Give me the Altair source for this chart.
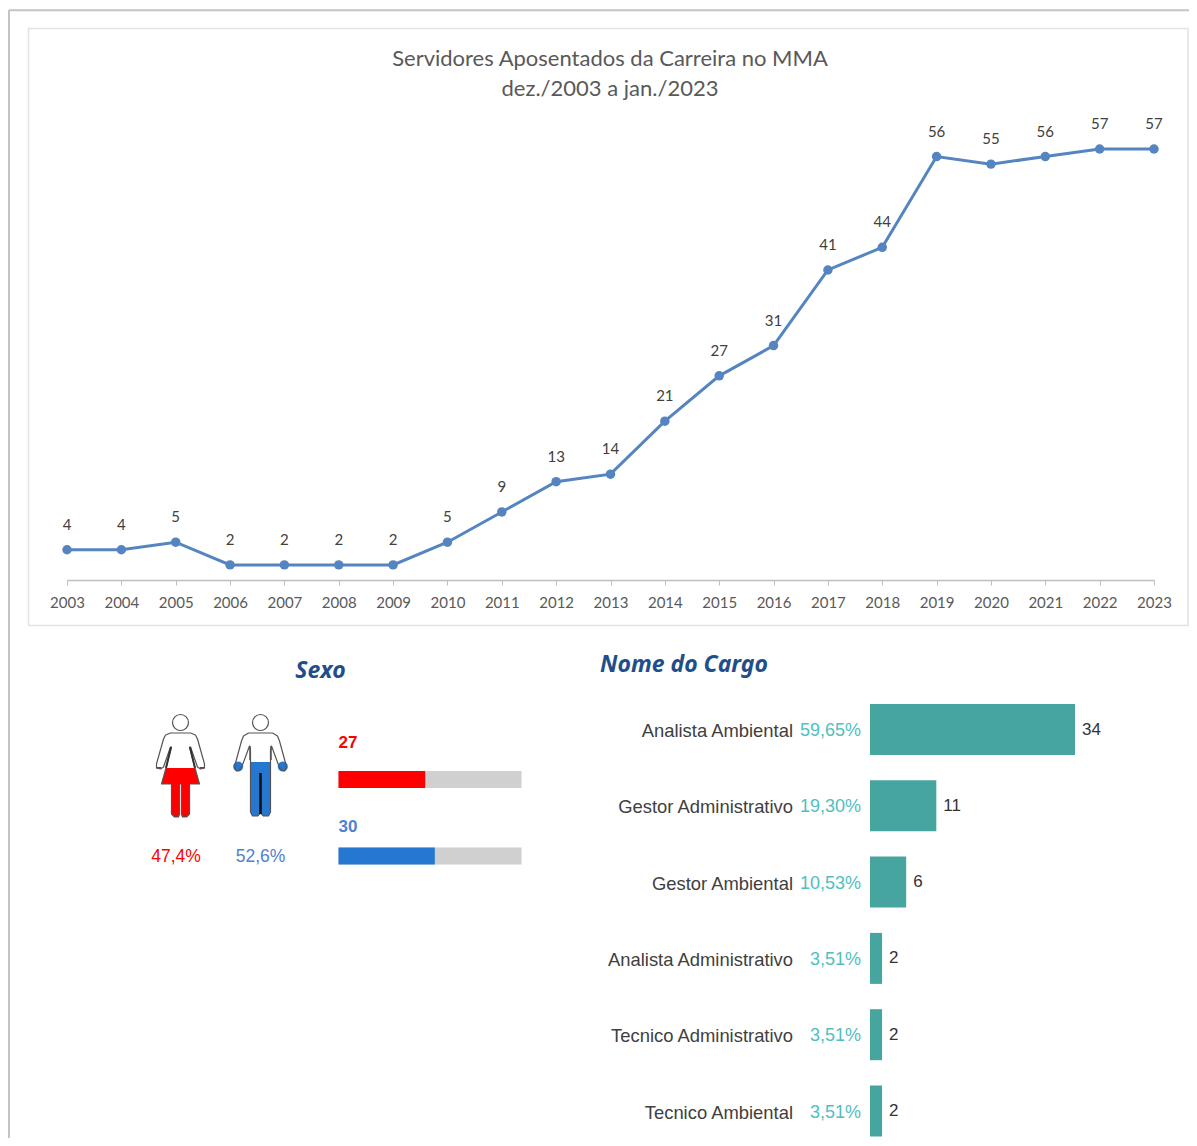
import altair as alt
import pandas as pd

anos = list(range(2003, 2024))
aposentados = [4, 4, 5, 2, 2, 2, 2, 5, 9, 13, 14, 21, 27, 31, 41, 44, 56, 55, 56, 57, 57]
sexos = ["Feminino", "Masculino"]
sexo_qtd = [27, 30]
sexo_pct = ["47,4%", "52,6%"]
sexo_total = [57, 57]
sexo_cor = ["#ff0000", "#2577d0"]
sexo_cor_txt = ["#ff0000", "#4f81d0"]
cargos = ["Analista Ambiental", "Gestor Administrativo", "Gestor Ambiental",
          "Analista Administrativo", "Tecnico Administrativo", "Tecnico Ambiental"]
cargo_pct = ["59,65%", "19,30%", "10,53%", "3,51%", "3,51%", "3,51%"]
cargo_qtd = [34, 11, 6, 2, 2, 2]
titulo = ["Servidores Aposentados da Carreira no MMA", "dez./2003 a jan./2023"]

W, H = 1181, 1130
def PX(v): return v - 8
def PY(v): return v - 8

serie = pd.DataFrame({"ano": [str(a) for a in anos], "n": aposentados})
sexo = pd.DataFrame({"sexo": sexos, "qtd": sexo_qtd, "pct": sexo_pct, "total": sexo_total})
cargo = pd.DataFrame({"cargo": cargos, "pct": cargo_pct, "qtd": cargo_qtd})
um = pd.DataFrame({"k": [1]})

# ---- pictogram shapes (icon-local units, scaled by the symbol size) ----
BOX = 110.0
def pt(dx, y): return f"{dx / (BOX / 2):.4f} {(y - 766) / (BOX / 2):.4f}"
def poly(points):
    return "M" + " L".join(pt(a, b) for a, b in points) + " Z"
def mirror(right):
    return right + [(-a, b) for a, b in reversed(right)]
def circle(cx, cy, r):
    a, b = pt(cx - r, cy), pt(cx + r, cy)
    rr = r / (BOX / 2)
    return f"M{a} A{rr:.4f} {rr:.4f} 0 1 0 {b} A{rr:.4f} {rr:.4f} 0 1 0 {a} Z"
def seg(a, b):
    return "M" + pt(*a) + " L" + pt(*b)

w_low = [(14.5, 768), (19, 784), (9, 784), (9, 814), (6, 817), (2, 817), (1, 814), (1, 784), (0, 784)]
w_right = [(0, 733), (10, 733), (15, 735), (17, 739), (24, 764), (24, 768), (20, 769), (17, 767),
           (10, 747), (9, 747)] + w_low
w_out = poly(mirror(w_right)) + " " + circle(0, 722.5, 8)
w_fill = poly(mirror(w_low)) + " " + poly([(19, 767), (24, 767), (24, 768.5), (20, 769)]) + " " + \
    poly([(-19, 767), (-24, 767), (-24, 768.5), (-20, 769)])
w_slit = seg((9.5, 747), (14.5, 768)) + " " + seg((-9.5, 747), (-14.5, 768))

m_low = [(10, 762), (10, 812), (8, 816), (3, 816), (0, 813)]
m_right = [(0, 733), (12, 733), (17, 736), (19, 741), (25, 763), (26, 768), (24, 771), (21, 770),
           (18, 765), (11, 746), (10, 750)] + m_low[1:]
m_out = poly(mirror(m_right)) + " " + circle(0, 722.5, 8)
m_fill = poly(mirror(m_low)) + " " + circle(22.3, 766.5, 5) + " " + circle(-22.3, 766.5, 5)
m_slit = seg((0, 773), (0, 814))
m_slit2 = seg((10.5, 746), (10.5, 760)) + " " + seg((-10.5, 746), (-10.5, 760))

icone_x = alt.X("sexo:N", axis=None, scale=alt.Scale(type="point", padding=0, domain=sexos, range=[PX(180.5), PX(260.5)]))
def icone(nome, path, fill=None, stroke=None, sw=1.2):
    d = sexo[sexo.sexo == nome]
    if fill:
        m = alt.Chart(d).mark_point(shape=path, size=BOX ** 2, filled=True, fill=fill, opacity=1, strokeWidth=0)
    else:
        m = alt.Chart(d).mark_point(shape=path, size=BOX ** 2, filled=False, stroke=stroke, opacity=1,
                                    strokeWidth=sw, strokeJoin="round")
    return m.encode(x=icone_x, y=alt.value(PY(766)))

# ---- layers ----
layers = []
layers.append(alt.Chart(um).mark_rule(color="#c4c4c4", strokeWidth=2).encode(
    x=alt.value(1), x2=alt.value(W), y=alt.value(PY(10.3))))
layers.append(alt.Chart(um).mark_rule(color="#c4c4c4", strokeWidth=2).encode(
    x=alt.value(1), y=alt.value(PY(10)), y2=alt.value(H)))
layers.append(alt.Chart(um).mark_rect(fill="white", stroke="#e2e2e2", strokeWidth=1.5).encode(
    x=alt.value(PX(28.5)), x2=alt.value(PX(1188)), y=alt.value(PY(28.5)), y2=alt.value(PY(625.5))))

x_anos = dict(type="point", padding=0, domain=[str(a) for a in anos], range=[PX(67), PX(1154)])
y_n = alt.Y("n:Q", axis=None, scale=alt.Scale(domain=[0, 57], range=[PY(580), PY(149)]))
eixo = alt.Axis(title=None, labelFont="Lato", labelFontSize=15, labelColor="#595959", labelAngle=0,
                domainColor="#bfbfbf", domainWidth=1.5, tickColor="#bfbfbf", tickSize=5, labelPadding=10,
                grid=False, offset=PY(580) - H, zindex=1)
layers.append(alt.Chart(serie).mark_line(color="#5585c0", strokeWidth=3).encode(
    x=alt.X("ano:O", scale=alt.Scale(**x_anos), axis=eixo), y=y_n))
layers.append(alt.Chart(serie).mark_point(filled=True, color="#5585c0", size=90, opacity=1).encode(
    x=alt.X("ano:O", scale=alt.Scale(**x_anos), axis=None), y=y_n))
layers.append(alt.Chart(serie).mark_text(font="Lato", fontSize=15, color="#404040", dy=-25).encode(
    x=alt.X("ano:O", scale=alt.Scale(**x_anos), axis=None), y=y_n, text="n:Q"))

for txt, yy in zip(titulo, [59, 89]):
    layers.append(alt.Chart(um).mark_text(text=txt, font="Lato", fontSize=22, color="#595959", align="center").encode(
        x=alt.value(PX(610)), y=alt.value(PY(yy))))

layers.append(alt.Chart(um).mark_text(text="Sexo", font="Noto Sans", fontSize=23, fontWeight="bold", fontStyle="italic",
                                      color="#1f4e8c", align="center").encode(
    x=alt.value(PX(320.5)), y=alt.value(PY(671))))
layers.append(alt.Chart(um).mark_text(text="Nome do Cargo", font="Noto Sans", fontSize=23, fontWeight="bold", fontStyle="italic",
                                      color="#1f4e8c", align="left").encode(
    x=alt.value(PX(600)), y=alt.value(PY(665))))

# pictograms
layers += [
    icone("Feminino", w_out, fill="white"), icone("Feminino", w_fill, fill=sexo_cor[0]),
    icone("Feminino", w_out, stroke="#555555"), icone("Feminino", w_slit, stroke="#333333", sw=2),
    icone("Masculino", m_out, fill="white"), icone("Masculino", m_fill, fill=sexo_cor[1]),
    icone("Masculino", m_out, stroke="#555555"), icone("Masculino", m_slit, stroke="#111111", sw=2.6),
    icone("Masculino", m_slit2, stroke="#555555", sw=1.5),
]
cor_txt = alt.Color("sexo:N", legend=None, scale=alt.Scale(domain=sexos, range=sexo_cor_txt))
cor_bar = alt.Color("sexo:N", legend=None, scale=alt.Scale(domain=sexos, range=sexo_cor))
layers.append(alt.Chart(sexo).mark_text(font="Liberation Sans", fontSize=17.5).encode(
    x=alt.X("sexo:N", axis=None, scale=alt.Scale(type="point", padding=0, domain=sexos, range=[PX(176), PX(260.5)])),
    y=alt.value(PY(857)), text="pct:N", color=cor_txt))

y_sexo = alt.Y("sexo:N", axis=None, scale=alt.Scale(type="point", padding=0, domain=sexos, range=[PY(779.5), PY(856)]))
x_sexo = alt.Scale(domain=[0, 57], range=[PX(338.5), PX(521.5)])
layers.append(alt.Chart(sexo).mark_bar(size=17, color="#d0d0d0").encode(
    x=alt.X("total:Q", axis=None, stack=None, scale=x_sexo), y=y_sexo))
layers.append(alt.Chart(sexo).mark_bar(size=17).encode(
    x=alt.X("qtd:Q", axis=None, stack=None, scale=x_sexo), y=y_sexo, color=cor_bar))
layers.append(alt.Chart(sexo).mark_text(font="Liberation Sans", fontSize=17, fontWeight="bold", align="left").encode(
    x=alt.value(PX(338.5)),
    y=alt.Y("sexo:N", axis=None, scale=alt.Scale(type="point", padding=0, domain=sexos, range=[PY(743), PY(826.5)])),
    text="qtd:Q", color=cor_txt))

y_cargo = alt.Y("cargo:N", axis=None, sort=None,
                scale=alt.Scale(type="point", padding=0, domain=cargos, range=[PY(729.5), PY(1111)]))
x_cargo = alt.Scale(domain=[0, 34], range=[PX(870), PX(1075)])
layers.append(alt.Chart(cargo).mark_bar(size=51, color="#47a5a0").encode(
    x=alt.X("qtd:Q", axis=None, scale=x_cargo), y=y_cargo))
layers.append(alt.Chart(cargo).mark_text(font="Liberation Sans", fontSize=17, color="#333333", align="left", dx=7).encode(
    x=alt.X("qtd:Q", axis=None, scale=x_cargo), y=y_cargo, text="qtd:Q"))
layers.append(alt.Chart(cargo).mark_text(font="Liberation Sans", fontSize=18.4, color="#404040", align="right", dy=1.5).encode(
    x=alt.value(PX(793)), y=y_cargo, text="cargo:N"))
layers.append(alt.Chart(cargo).mark_text(font="Liberation Sans", fontSize=18, color="#4fc0c0", align="right", dy=1.5).encode(
    x=alt.value(PX(861)), y=y_cargo, text="pct:N"))

chart = alt.layer(*layers).resolve_scale(
    x="independent", y="independent", color="independent"
).resolve_axis(x="independent", y="independent").properties(
    width=W, height=H, padding=0, autosize=alt.AutoSizeParams(type="none"), background="white"
).configure_view(strokeWidth=0)

chart.save("out.html", embed_options={"renderer": "svg", "actions": False})
